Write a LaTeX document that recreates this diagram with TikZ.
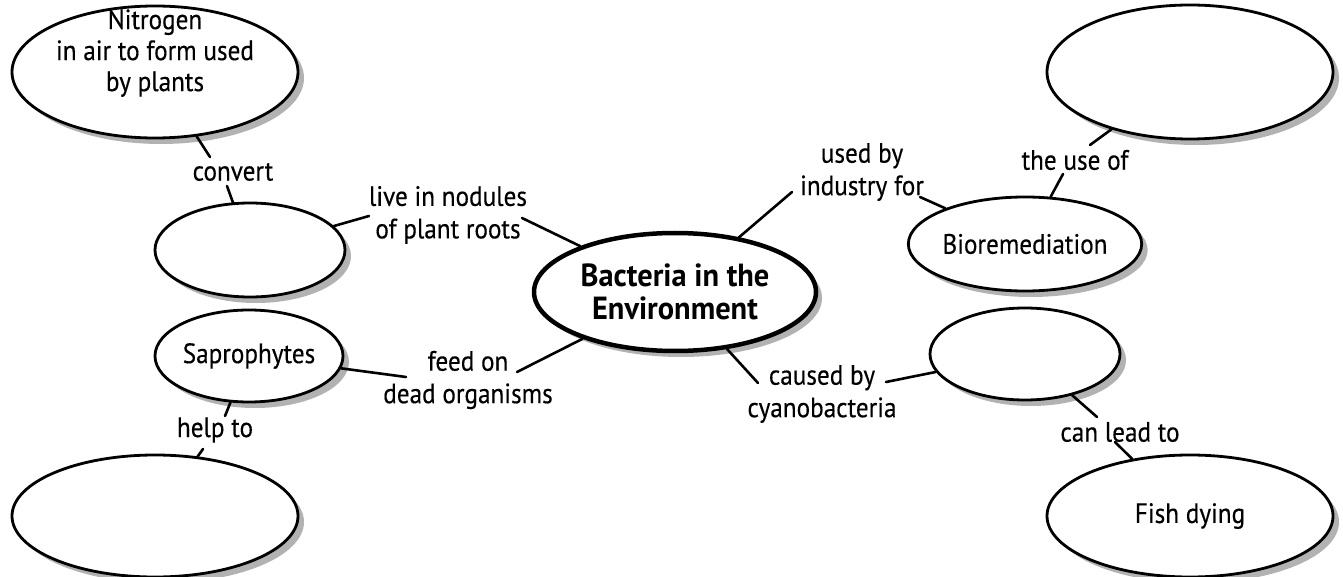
\documentclass[tikz,border=0pt]{standalone}
\usepackage{fontspec}
\setmainfont[FakeStretch=0.9,FakeBold=0.3]{PT Sans}
\newfontfamily\ctrfont[FakeStretch=0.95]{PT Sans}
\usetikzlibrary{shapes.geometric,shadows}
\begin{document}
\begin{tikzpicture}[x=1pt,y=-1pt,
  bub/.style={ellipse,draw=black,line width=2.8pt,fill=white,inner sep=0pt,align=center,
    font=\fontsize{28}{31}\selectfont,
    drop shadow={shadow xshift=6pt,shadow yshift=-6pt,opacity=0.3,fill=black}},
  txt/.style={align=center,font=\fontsize{28}{32.5}\selectfont,inner sep=0pt},
  con/.style={line width=2.6pt,line cap=round}]
\fill[white] (0,0) rectangle (1343,577);
\useasboundingbox (0,0) rectangle (1343,577);

% ellipses
\node[bub,minimum width=286pt,minimum height=132pt] (nit) at (155,72) {};
\node[txt,font=\fontsize{28}{31}\selectfont] (nitT) at (155,53) {Nitrogen\\in air to form used\\by plants};
\node[bub,minimum width=190pt,minimum height=94pt] (e2) at (250,250) {};
\node[bub,minimum width=188pt,minimum height=92pt] (sap) at (249,356) {Saprophytes};
\node[bub,minimum width=286pt,minimum height=122pt] (e4) at (155,516) {};
\node[bub,minimum width=282pt,minimum height=118pt,line width=4.5pt,
      font=\ctrfont\fontsize{32}{33}\selectfont\bfseries] (ctr) at (675,292) {Bacteria in the\\Environment};
\node[bub,minimum width=286pt,minimum height=134pt] (tr) at (1190,72) {};
\node[bub,minimum width=194pt,minimum height=94pt] (bio) at (1025,244) {Bioremediation};
\node[bub,minimum width=190pt,minimum height=92pt] (rm) at (1025,354) {};
\node[bub,minimum width=286pt,minimum height=122pt] (fish) at (1190,516) {Fish dying};

% labels
\node[txt] (lconv) at (233,172) {convert};
\node[txt] (llive) at (448,215) {live in nodules\\of plant roots};
\node[txt] (lfeed) at (468,380) {feed on\\dead organisms};
\node[txt] (lhelp) at (215,430) {help to};
\node[txt] (lused) at (862,172) {used by\\industry for};
\node[txt] (luse) at (1075,160) {the use of};
\node[txt] (lcaus) at (822,394) {caused by\\cyanobacteria};
\node[txt] (lcan) at (1120,432) {can lead to};

% connector ends beside the labels
\coordinate (c1) at (210,157);
\coordinate (c2) at (227,186);
\coordinate (c3) at (369,216);
\coordinate (c4) at (522,218);
\coordinate (c5) at (517,372);
\coordinate (c6) at (406,377);
\coordinate (c7) at (225,416);
\coordinate (c8) at (203,449);
\coordinate (c9) at (792,192);
\coordinate (c10) at (920,197);
\coordinate (c11) at (1063,174);
\coordinate (c12) at (1090,145);
\coordinate (c13) at (758,383);
\coordinate (c14) at (886,382);
\coordinate (c15) at (1097,417);
\coordinate (c16) at (1115,442);

\draw[con] (nit) -- (c1);
\draw[con] (e2) -- (c2);
\draw[con] (e2) -- (c3);
\draw[con] (ctr) -- (c4);
\draw[con] (ctr) -- (c5);
\draw[con] (sap) -- (c6);
\draw[con] (sap) -- (c7);
\draw[con] (e4) -- (c8);
\draw[con] (ctr) -- (c9);
\draw[con] (bio) -- (c10);
\draw[con] (bio) -- (c11);
\draw[con] (tr) -- (c12);
\draw[con] (ctr) -- (c13);
\draw[con] (rm) -- (c14);
\draw[con] (rm) -- (c15);
\draw[con] (fish) -- (c16);
\end{tikzpicture}
\end{document}
